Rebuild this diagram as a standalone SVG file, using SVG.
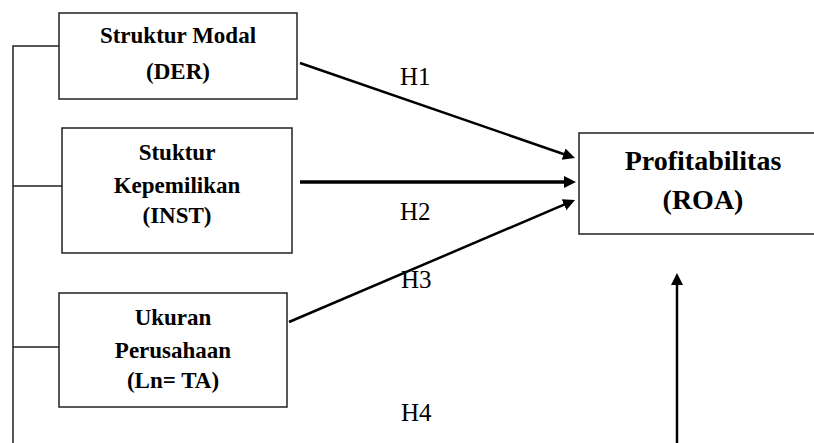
<svg xmlns="http://www.w3.org/2000/svg" width="814" height="443" viewBox="0 0 814 443">
<style>
.box{fill:#fff;stroke:#222;stroke-width:1.5}
.t{font-family:"Liberation Serif","Times New Roman",serif;font-weight:bold;font-size:23px;fill:#000;text-anchor:middle}
.big{font-size:28px}
.h{font-family:"Liberation Serif","Times New Roman",serif;font-size:25px;fill:#000}
.br{stroke:#222;stroke-width:1.5;fill:none}
.ar{stroke:#000;stroke-width:2.5;fill:none;marker-end:url(#ah)}
</style>
<defs>
<marker id="ah" markerUnits="userSpaceOnUse" markerWidth="14" markerHeight="14" viewBox="0 0 14 14" refX="2" refY="7" orient="auto">
<path d="M0,1 L12,7 L0,13 z" fill="#000"/>
</marker>
</defs>
<rect width="814" height="443" fill="#fff"/>
<g id="connectors">
<path class="br" d="M13,443 V46 H59 M13,186 H62 M13,347 H59"/>
<line class="ar" x1="300" y1="63" x2="565.5" y2="154.7"/>
<line class="ar" x1="300" y1="182" x2="566" y2="182" style="stroke-width:3.5"/>
<line class="ar" x1="289" y1="322" x2="565.8" y2="203.9"/>
<line class="ar" x1="677" y1="443" x2="677" y2="283"/>
</g>
<g id="labels">
<text class="h" x="400" y="85">H1</text>
<text class="h" x="400" y="220">H2</text>
<text class="h" x="401" y="288">H3</text>
<text class="h" x="401" y="421">H4</text>
</g>
<g id="der">
<rect class="box" x="59" y="13" width="238" height="86"/>
<text class="t" x="178" y="43">Struktur Modal</text>
<text class="t" x="178" y="79">(DER)</text>
</g>
<g id="inst">
<rect class="box" x="62" y="128" width="230" height="125"/>
<text class="t" x="177" y="160">Stuktur</text>
<text class="t" x="177" y="193">Kepemilikan</text>
<text class="t" x="177" y="223">(INST)</text>
</g>
<g id="ukuran">
<rect class="box" x="59" y="293" width="228" height="114"/>
<text class="t" x="173" y="325">Ukuran</text>
<text class="t" x="173" y="358">Perusahaan</text>
<text class="t" x="173" y="388">(Ln= TA)</text>
</g>
<g id="roa">
<rect class="box" x="579" y="133" width="240" height="101"/>
<text class="t big" x="703" y="170">Profitabilitas</text>
<text class="t big" x="703" y="209">(ROA)</text>
</g>
</svg>
